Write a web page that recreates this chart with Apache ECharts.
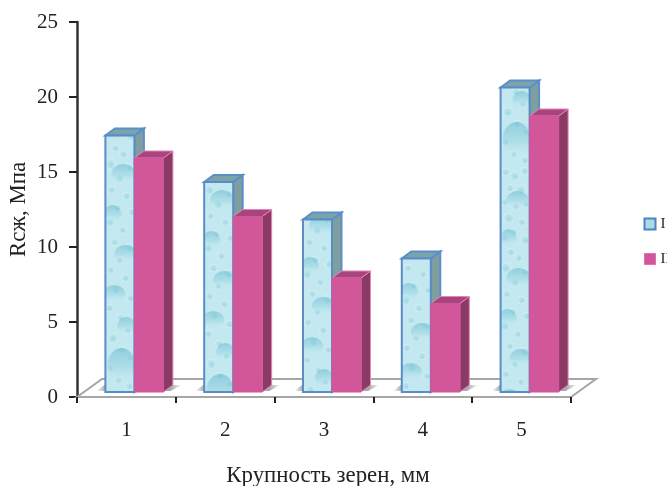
<!DOCTYPE html>
<html>
<head>
<meta charset="utf-8">
<script src="https://cdn.jsdelivr.net/npm/echarts@6/dist/echarts.min.js"></script>
<style>html,body{margin:0;padding:0;background:#fff}#chart{width:667px;height:486px}</style>
</head>
<body>
<div id="chart"></div>
<script>
// Compressive strength by grain size, two mixes
const categories = ['1', '2', '3', '4', '5'];
const seriesI = [17.1, 14.0, 11.5, 8.9, 20.3];
const seriesII = [15.6, 11.7, 7.6, 5.9, 18.4];
const yTicks = { min: 0, max: 25, interval: 5 };

// Pseudo-3D geometry, in pixels
const BAR_W = 29, DEPTH_X = 9.5, DEPTH_Y = 7;
const FLOOR_X = 25, FLOOR_Y = 18;
const SHIFT_X = 8, SHIFT_Y = -5;
const TILE_H = 330;

// Water-drop tile used on the front of series I
function dropTile() {
  const c = document.createElement('canvas');
  c.width = BAR_W; c.height = TILE_H;
  const g = c.getContext('2d');
  g.fillStyle = '#c4e8f0';
  g.fillRect(0, 0, BAR_W, TILE_H);

  // pale mottling between the drops
  const specks = [
    [5,6,4],[14,10,5],[24,5,4],[9,22,4],[20,24,5],[4,36,4],[15,40,4],[25,38,4],
    [8,52,5],[21,56,4],[13,66,4],[4,72,4],[25,74,5],[10,86,4],[18,92,4],[5,102,5],
    [24,106,4],[14,116,5],[6,128,4],[21,134,4],[12,146,4],[26,150,4],[4,160,5],[17,168,4],
    [9,180,4],[24,186,5],[14,198,4],[5,208,4],[20,216,4],[10,228,5],[25,236,4],[4,246,4],
    [15,256,4],[22,268,4],[7,276,5],[16,288,4],[25,296,4],[5,306,4],[13,318,4],[24,324,4]
  ];
  specks.forEach(([x, y, r]) => {
    const d = g.createRadialGradient(x + 1, y + 1, 0.3, x, y, r);
    d.addColorStop(0, 'rgba(135,205,220,0.6)');
    d.addColorStop(0.7, 'rgba(165,220,231,0.35)');
    d.addColorStop(1, 'rgba(232,248,251,0.6)');
    g.fillStyle = d;
    g.beginPath();
    g.arc(x, y, r, 0, Math.PI * 2);
    g.fill();
  });

  // larger drops, darkest along the upper edge
  const drops = [
    [17,34,11,9],[8,72,8,9],[18,112,12,10],[7,152,9,9],[20,192,11,9],
    [9,232,11,9],[21,264,9,9],[16,304,14,18]
  ];
  drops.forEach(([x, y, rx, ry]) => {
    const d = g.createLinearGradient(0, y - ry, 0, y + ry);
    d.addColorStop(0, 'rgba(105,188,206,0.6)');
    d.addColorStop(0.55, 'rgba(140,208,221,0.4)');
    d.addColorStop(1, 'rgba(205,238,244,0)');
    g.fillStyle = d;
    g.beginPath();
    g.ellipse(x, y, rx, ry, 0, 0, Math.PI * 2);
    g.fill();
  });
  return c;
}
const tile = dropTile();

function poly(points, style) {
  return { type: 'polygon', shape: { points }, style };
}

// Soft floor shadow fading away from the box
function shade(x0, x1) {
  return {
    type: 'linear', x: x0, y: 0, x2: x1, y2: 0, global: true,
    colorStops: [
      { offset: 0, color: 'rgba(110,110,110,0.6)' },
      { offset: 1, color: 'rgba(110,110,110,0)' }
    ]
  };
}

// One box: front face plus top and right faces raised from the value scale
function boxRenderer(side, look) {
  return function (params, api) {
    const i = api.value(0), v = api.value(1);
    const base = api.coord([i, 0]);
    const top = api.coord([i, v]);
    const x0 = base[0] + SHIFT_X + (side < 0 ? -BAR_W : 0);
    const x1 = x0 + BAR_W;
    const y0 = base[1] + SHIFT_Y;
    const y1 = top[1] + SHIFT_Y;
    const shadow = side < 0
      ? poly([[x0, y0 - 1], [x0 - 9, y0 - 1], [x0 - 1, y0 - 7], [x0, y0 - 7]], { fill: shade(x0, x0 - 9) })
      : poly([[x1, y0 - 1], [x1 + DEPTH_X, y0 - DEPTH_Y], [x1 + DEPTH_X + 9, y0 - DEPTH_Y], [x1 + 7, y0 - 1]],
             { fill: shade(x1 + DEPTH_X - 2, x1 + DEPTH_X + 9) });
    const front = {
      type: 'rect',
      shape: { x: x0, y: y1, width: BAR_W, height: y0 - y1 },
      style: {
        fill: look.front === 'drops'
          ? { image: tile, repeat: 'repeat', x: x0, y: y0 - TILE_H + i * 26 }
          : look.front,
        stroke: look.stroke, lineWidth: look.lineWidth
      }
    };
    const topFace = poly(
      [[x0, y1], [x0 + DEPTH_X, y1 - DEPTH_Y], [x1 + DEPTH_X, y1 - DEPTH_Y], [x1, y1]],
      { fill: look.top, stroke: look.edge, lineWidth: look.lineWidth });
    const sideFace = poly(
      [[x1, y1], [x1 + DEPTH_X, y1 - DEPTH_Y], [x1 + DEPTH_X, y0 - DEPTH_Y], [x1, y0]],
      { fill: look.side, stroke: look.edge, lineWidth: look.lineWidth });
    return { type: 'group', children: [shadow, sideFace, topFace, front] };
  };
}

// Floor plane behind the bars, spanning the whole category axis
function floorRenderer(params, api) {
  const step = api.size([1, 0])[0];
  const first = api.coord([0, 0]);
  const last = api.coord([categories.length - 1, 0]);
  const ax = first[0] - step / 2, bx = last[0] + step / 2, y = first[1];
  return poly(
    [[ax, y], [ax + FLOOR_X, y - FLOOR_Y], [bx + FLOOR_X, y - FLOOR_Y], [bx, y]],
    { fill: '#fff', stroke: '#a6a6a6', lineWidth: 2 });
}

const serif = '"Liberation Serif", "Times New Roman", serif';
const ink = '#222';
const chart = echarts.init(document.getElementById('chart'));
chart.setOption({
  animation: false,
  backgroundColor: '#fff',
  grid: { left: 77, right: 96, top: 22, bottom: 89, outerBoundsMode: 'none' },
  legend: {
    orient: 'vertical', left: 643.5, top: 216.5, padding: 0,
    itemWidth: 11, itemHeight: 11, itemGap: 20,
    textStyle: { fontFamily: serif, fontSize: 15, color: ink },
    data: [
      { name: 'I', icon: 'rect', itemStyle: { color: '#a6dce8', borderColor: '#4f81bd', borderWidth: 2 } },
      { name: 'II', icon: 'rect', itemStyle: { color: '#d2569a', borderColor: '#e070b0', borderWidth: 1 } }
    ]
  },
  xAxis: {
    type: 'category', data: categories, boundaryGap: true,
    name: 'Крупность зерен, мм', nameLocation: 'middle', nameGap: 68, nameMoveOverlap: false,
    nameTextStyle: { fontFamily: serif, fontSize: 22.8, color: ink, padding: [0, 0, 0, 8] },
    axisLine: { lineStyle: { color: '#a6a6a6', width: 2 } },
    axisTick: { show: true, length: 6, lineStyle: { color: ink, width: 2 } },
    axisLabel: { fontFamily: serif, fontSize: 21, color: ink, margin: 23 },
    splitLine: { show: false }, z: 5
  },
  yAxis: {
    type: 'value', min: yTicks.min, max: yTicks.max, interval: yTicks.interval,
    name: 'Rсж, Мпа', nameLocation: 'middle', nameGap: 46, nameMoveOverlap: false,
    nameTextStyle: { fontFamily: serif, fontSize: 22.8, color: ink },
    axisLine: { show: true, lineStyle: { color: '#333', width: 2.5 } },
    axisTick: { show: true, length: 8, lineStyle: { color: ink, width: 2 } },
    axisLabel: { fontFamily: serif, fontSize: 21, color: ink, margin: 19 },
    splitLine: { show: false }
  },
  series: [
    {
      name: 'floor', type: 'custom', data: [[0, 0]], renderItem: floorRenderer,
      encode: { x: 0, y: 1 }, silent: true, z: 1, clip: false
    },
    {
      name: 'I', type: 'custom', z: 2, clip: false, encode: { x: 0, y: 1 },
      data: seriesI.map((v, i) => [i, v]),
      renderItem: boxRenderer(-1, {
        front: 'drops', top: '#7ba3aa', side: '#7f9f9f', stroke: '#5a8cc8', edge: '#5b8fc9', lineWidth: 2
      })
    },
    {
      name: 'II', type: 'custom', z: 3, clip: false, encode: { x: 0, y: 1 },
      data: seriesII.map((v, i) => [i, v]),
      renderItem: boxRenderer(1, {
        front: '#d2569a', top: '#a8457f', side: '#8a3a64', stroke: '#d2569a', edge: '#e683b8', lineWidth: 1
      })
    }
  ]
});
</script>
</body>
</html>
